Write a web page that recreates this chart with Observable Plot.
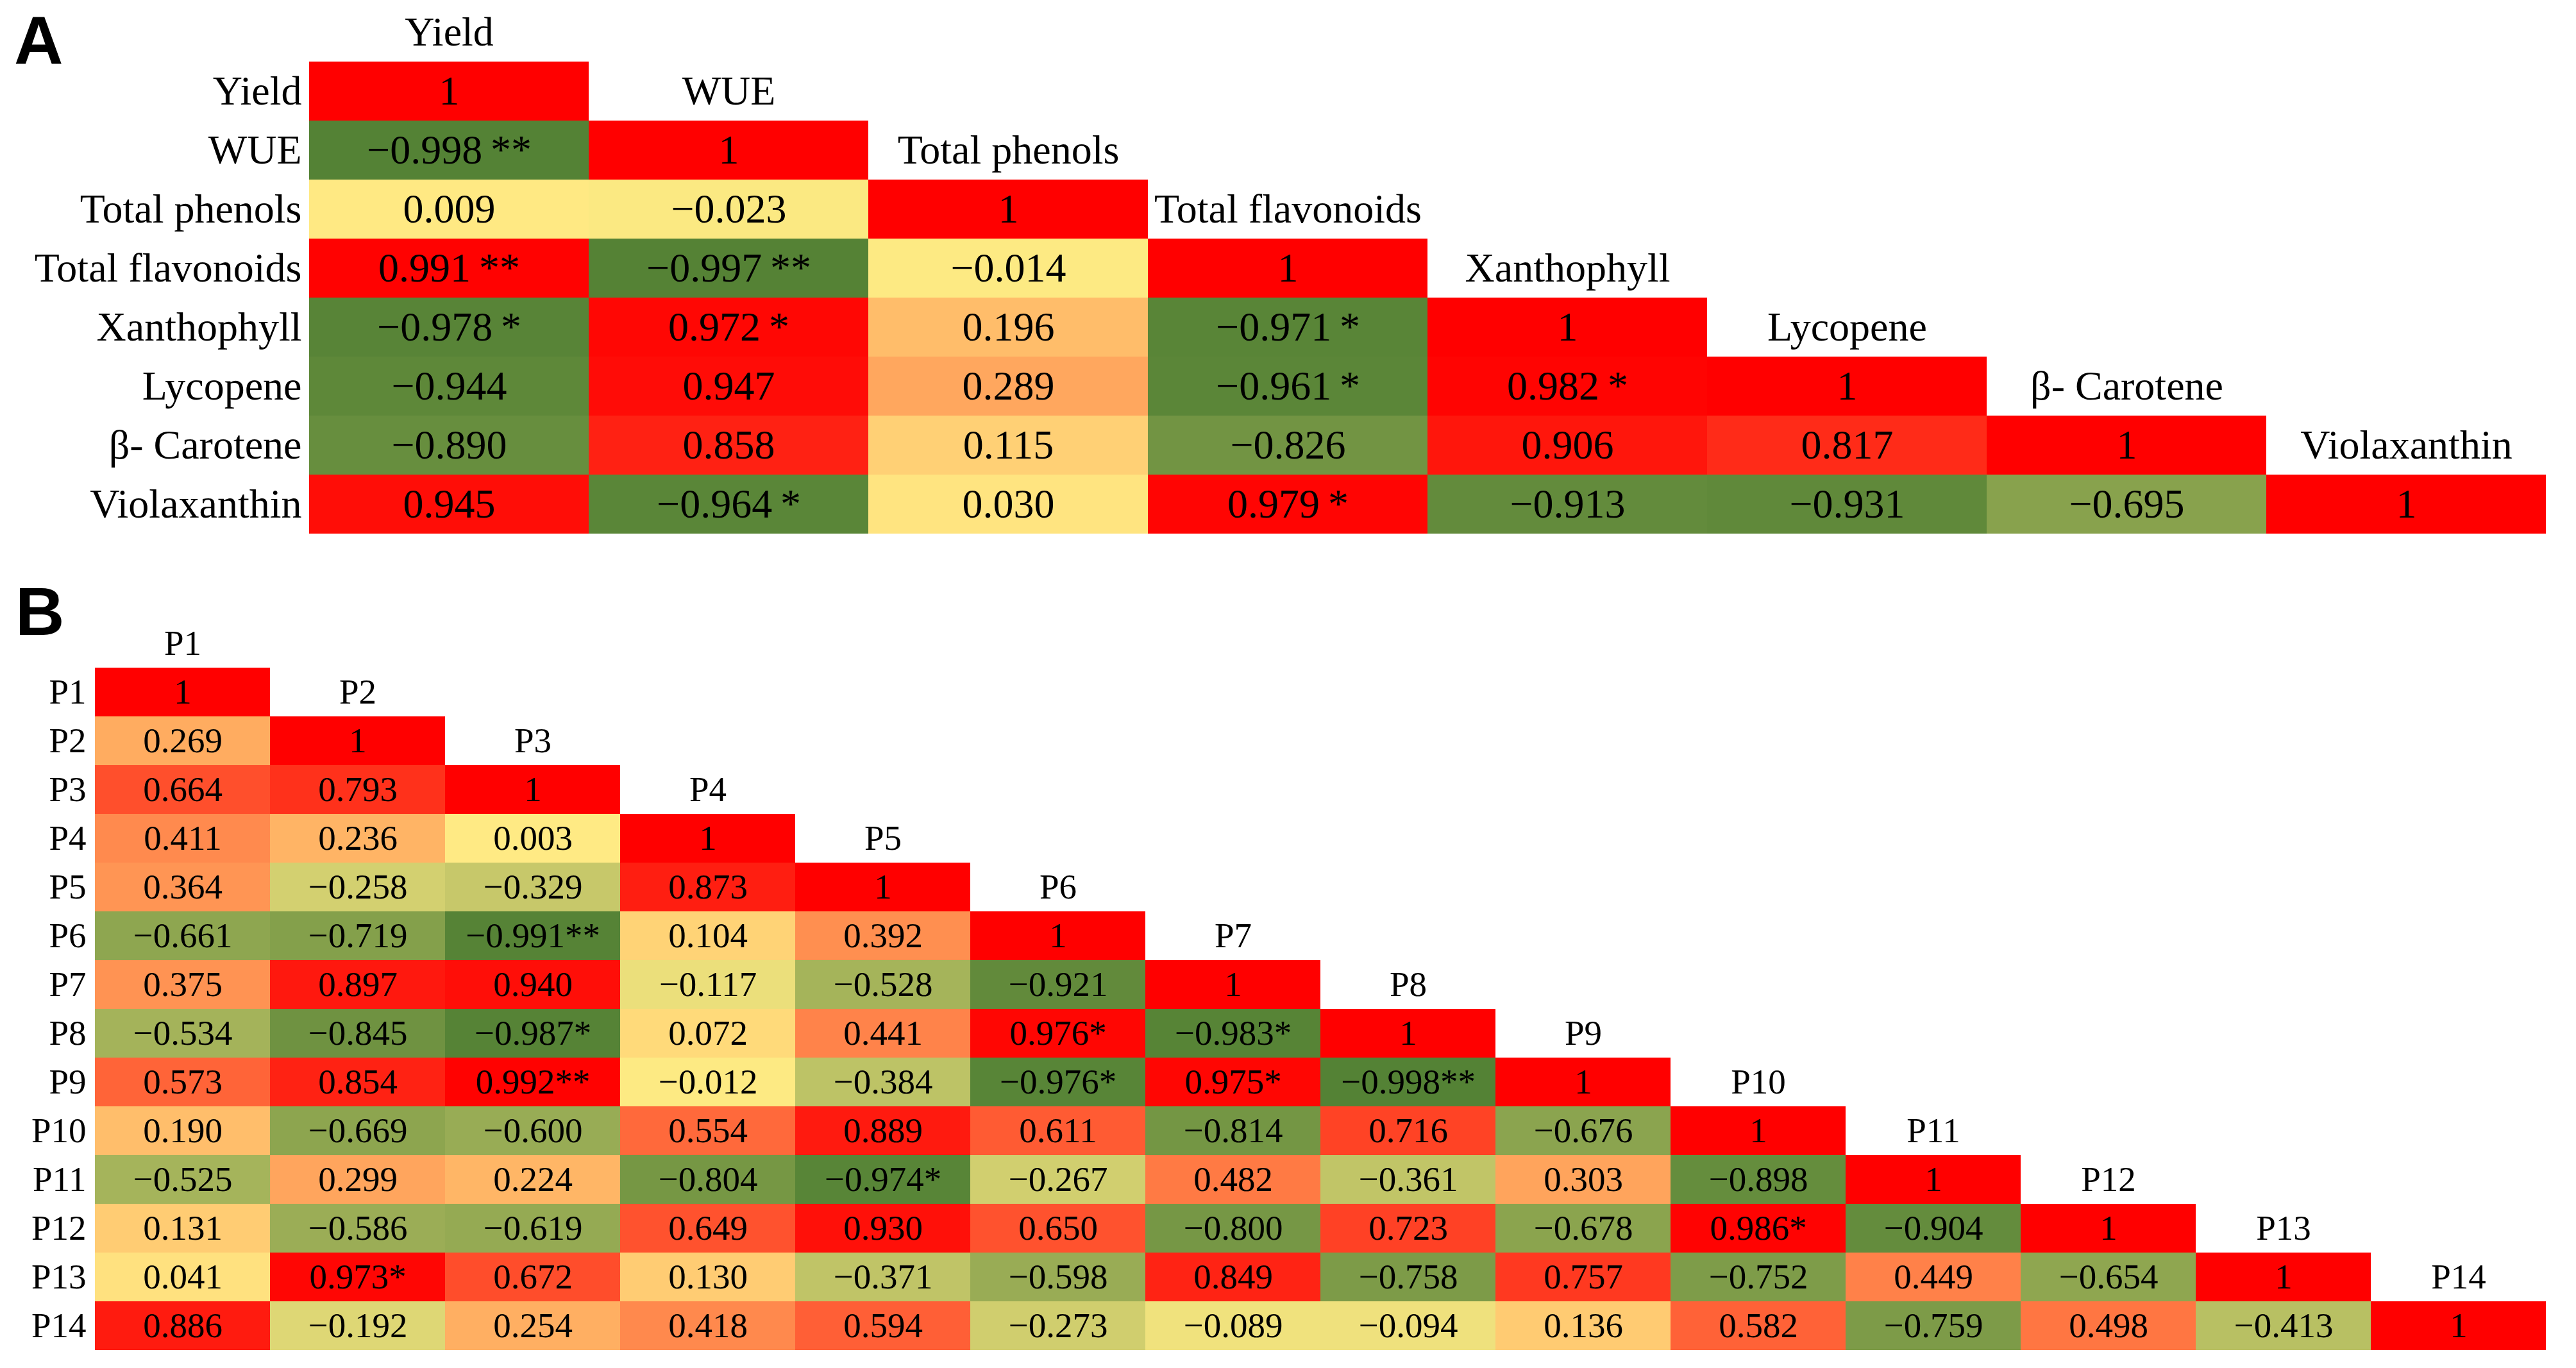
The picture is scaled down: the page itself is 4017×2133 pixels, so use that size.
<!DOCTYPE html>
<html>
<head>
<meta charset="utf-8">
<script src="https://cdn.jsdelivr.net/npm/d3@7"></script>
<script src="https://cdn.jsdelivr.net/npm/@observablehq/plot@0.6"></script>
<style>
  html, body { margin: 0; padding: 0; background: #fff; }
  #page { position: relative; width: 4017px; height: 2133px; background: #fff; overflow: hidden; }
  .panel { position: absolute; left: 0; }
  .tag { position: absolute; font-family: "Liberation Sans", Arial, sans-serif; font-weight: bold; font-size: 106px; line-height: normal; color: #000; z-index: 2; }
</style>
</head>
<body>
<div id="page">
  <div id="panelA" class="panel" style="top:0px;"></div>
  <div id="panelB" class="panel" style="top:900px;"></div>
  <div class="tag" style="left:22px; top:3px;">A</div>
  <div class="tag" style="left:24px; top:893px;">B</div>
</div>
<script>
// ---------- Panel A data ----------
const varsA = ["Yield", "WUE", "Total phenols", "Total flavonoids", "Xanthophyll", "Lycopene", "β- Carotene", "Violaxanthin"];
const valuesA = [
  [1],
  [-0.998, 1],
  [0.009, -0.023, 1],
  [0.991, -0.997, -0.014, 1],
  [-0.978, 0.972, 0.196, -0.971, 1],
  [-0.944, 0.947, 0.289, -0.961, 0.982, 1],
  [-0.890, 0.858, 0.115, -0.826, 0.906, 0.817, 1],
  [0.945, -0.964, 0.030, 0.979, -0.913, -0.931, -0.695, 1]
];
const starsA = [
  [""],
  ["**", ""],
  ["", "", ""],
  ["**", "**", "", ""],
  ["*", "*", "", "*", ""],
  ["", "", "", "*", "*", ""],
  ["", "", "", "", "", "", ""],
  ["", "*", "", "*", "", "", "", ""]
];

// ---------- Panel B data ----------
const varsB = ["P1", "P2", "P3", "P4", "P5", "P6", "P7", "P8", "P9", "P10", "P11", "P12", "P13", "P14"];
const valuesB = [
  [1],
  [0.269, 1],
  [0.664, 0.793, 1],
  [0.411, 0.236, 0.003, 1],
  [0.364, -0.258, -0.329, 0.873, 1],
  [-0.661, -0.719, -0.991, 0.104, 0.392, 1],
  [0.375, 0.897, 0.940, -0.117, -0.528, -0.921, 1],
  [-0.534, -0.845, -0.987, 0.072, 0.441, 0.976, -0.983, 1],
  [0.573, 0.854, 0.992, -0.012, -0.384, -0.976, 0.975, -0.998, 1],
  [0.190, -0.669, -0.600, 0.554, 0.889, 0.611, -0.814, 0.716, -0.676, 1],
  [-0.525, 0.299, 0.224, -0.804, -0.974, -0.267, 0.482, -0.361, 0.303, -0.898, 1],
  [0.131, -0.586, -0.619, 0.649, 0.930, 0.650, -0.800, 0.723, -0.678, 0.986, -0.904, 1],
  [0.041, 0.973, 0.672, 0.130, -0.371, -0.598, 0.849, -0.758, 0.757, -0.752, 0.449, -0.654, 1],
  [0.886, -0.192, 0.254, 0.418, 0.594, -0.273, -0.089, -0.094, 0.136, 0.582, -0.759, 0.498, -0.413, 1]
];
const starsB = [
  [""],
  ["", ""],
  ["", "", ""],
  ["", "", "", ""],
  ["", "", "", "", ""],
  ["", "", "**", "", "", ""],
  ["", "", "", "", "", "", ""],
  ["", "", "*", "", "", "*", "*", ""],
  ["", "", "**", "", "", "*", "*", "**", ""],
  ["", "", "", "", "", "", "", "", "", ""],
  ["", "", "", "", "*", "", "", "", "", "", ""],
  ["", "", "", "", "", "", "", "", "", "*", "", ""],
  ["", "*", "", "", "", "", "", "", "", "", "", "", ""],
  ["", "", "", "", "", "", "", "", "", "", "", "", "", ""]
];

// colour stops (Excel-like 3-colour scale)
const colorDomain = [-1, 0, 1];
const colorRange = ["#548235", "#FFEB84", "#FF0000"];

const HDR = "\u0000hdr";

function fmt(v) {
  if (v === 1) return "1";
  const s = Math.abs(v).toFixed(3);
  return v < 0 ? "\u2212" + s : s;
}

function toCells(vars, values, stars, sep) {
  const out = [];
  values.forEach((row, i) => row.forEach((v, j) => {
    const st = stars[i][j];
    out.push({row: vars[i], col: vars[j], v, label: fmt(v) + (st ? sep + st : "")});
  }));
  return out;
}

function panel(vars, cells, opts) {
  return Plot.plot({
    width: 4017,
    height: opts.height,
    marginTop: opts.marginTop,
    marginBottom: opts.marginBottom,
    marginLeft: opts.marginLeft,
    marginRight: opts.marginRight,
    style: {fontFamily: "'Liberation Serif', 'Times New Roman', serif", fontSize: opts.fontSize + "px", background: "transparent", color: "#000"},
    x: {domain: vars, padding: 0, axis: null},
    y: {domain: [HDR, ...vars], padding: 0, axis: "left", tickSize: 0, tickPadding: opts.tickPadding, tickFormat: d => d === HDR ? "" : d, label: null},
    color: {type: "linear", domain: colorDomain, range: colorRange, interpolate: "rgb", clamp: true},
    marks: [
      Plot.cell(cells, {x: "col", y: "row", fill: "v", inset: 0}),
      Plot.text(cells, {x: "col", y: "row", text: "label", fill: "#000", fontSize: opts.fontSize}),
      Plot.text(vars, {x: d => d, y: (d, i) => i === 0 ? HDR : vars[i - 1], text: d => d, fill: "#000", fontSize: opts.fontSize})
    ]
  });
}

const cellsA = toCells(varsA, valuesA, starsA, "\u2009");
const cellsB = toCells(varsB, valuesB, starsB, "");

document.getElementById("panelA").append(panel(varsA, cellsA, {
  height: 845, marginTop: 3, marginBottom: 12, marginLeft: 480, marginRight: 46, fontSize: 64, tickPadding: 10
}));
document.getElementById("panelB").append(panel(varsB, cellsB, {
  height: 1226, marginTop: 62, marginBottom: 19, marginLeft: 143, marginRight: 42, fontSize: 55, tickPadding: 9
}));
</script>
</body>
</html>
